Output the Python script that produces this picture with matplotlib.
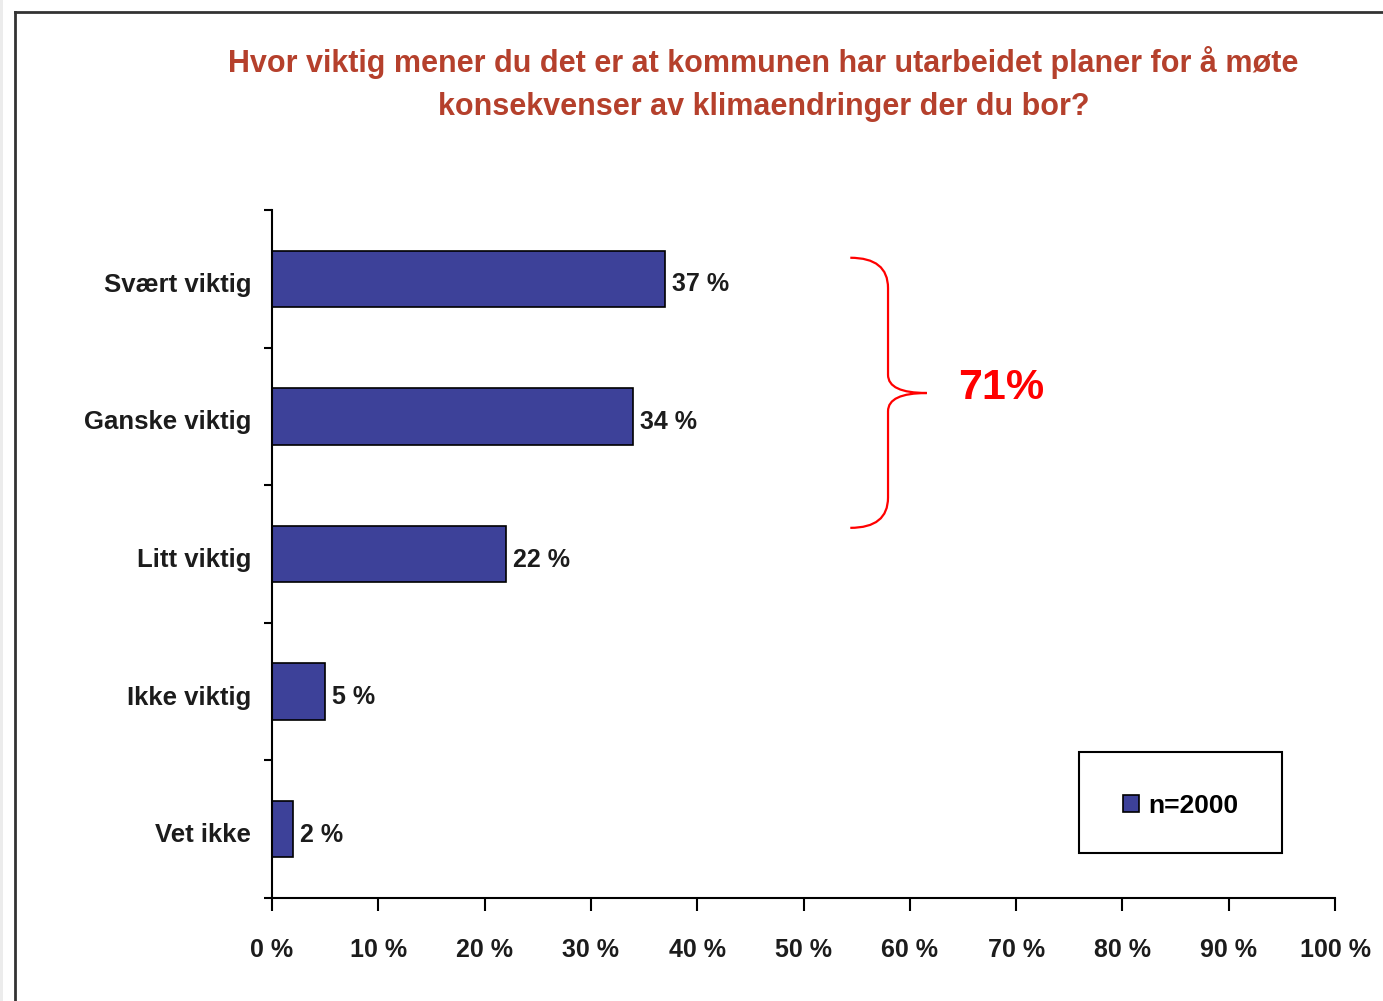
import matplotlib
matplotlib.use("Agg")
import matplotlib.pyplot as plt
import matplotlib.transforms as mtransforms
from matplotlib.path import Path
from matplotlib.patches import PathPatch, Rectangle

plt.rcParams['font.family'] = ['Liberation Sans', 'DejaVu Sans']

# data
categories = ["Svært viktig", "Ganske viktig", "Litt viktig", "Ikke viktig", "Vet ikke"]
shares = [37, 34, 22, 5, 2]
x_ticks = list(range(0, 101, 10))
x_labels = [f"{t} %" for t in x_ticks]
title = ("Hvor viktig mener du det er at kommunen har utarbeidet planer for å møte\n"
         "konsekvenser av klimaendringer der du bor?")
series_label = "n=2000"
brace_text = "71%"

bar_color = "#3d4199"
title_color = "#b5402c"
text_color = "#1c1c1c"

fig = plt.figure(figsize=(13.83, 10.01), dpi=100)
fig.patch.set_facecolor("white")

# outer frame like the original page
fig.add_artist(Rectangle((0, 0), 0.0025, 1, transform=fig.transFigure, color="#ececec", lw=0))
fig.add_artist(plt.Line2D([0.0105, 0.0105], [0, 0.988], transform=fig.transFigure, color="#333333", lw=2))
fig.add_artist(plt.Line2D([0.0105, 1], [0.988, 0.988], transform=fig.transFigure, color="#333333", lw=2))

ax = fig.add_axes([0.1967, 0.1029, 0.7686, 0.6873])
pos = list(range(len(categories)))
bars = ax.barh(pos, shares, height=0.41, color=bar_color, edgecolor="black", lw=1.2, label=series_label)
value_texts = ax.bar_label(bars, labels=[f"{v} %" for v in shares], padding=5, fontsize=18,
                           fontweight="bold", color=text_color)
# labels sit a few pixels below the bar centres in the original
for t in value_texts:
    t.xyann = (5, -4)

ax.set_xlim(0, 100)
ax.set_ylim(len(categories) - 0.5, -0.5)
ax.set_xticks(x_ticks)
ax.set_xticklabels(x_labels, fontsize=18, fontweight="bold", color=text_color)
ax.tick_params(axis="x", direction="out", length=9, width=1.5, pad=20)

# y ticks at slot borders, labels at centres
ax.set_yticks([p - 0.5 for p in pos] + [len(categories) - 0.5])
ax.set_yticklabels([])
ax.set_yticks(pos, minor=True)
ax.set_yticklabels(categories, minor=True, fontsize=18.5, fontweight="bold", color=text_color)
ax.tick_params(axis="y", which="major", direction="out", length=6, width=1.5)
ax.tick_params(axis="y", which="minor", length=0, pad=15)
shift_down = mtransforms.ScaledTranslation(0, -2.5 / 72, fig.dpi_scale_trans)
for lbl in ax.get_yticklabels(minor=True):
    lbl.set_transform(lbl.get_transform() + shift_down)

for s in ["top", "right"]:
    ax.spines[s].set_visible(False)
for s in ["left", "bottom"]:
    ax.spines[s].set_linewidth(1.5)

# brace for the first two answers
x0, xs, xt = 54.4, 57.95, 61.6
y0, ym, y1 = -0.153, 0.83, 1.81
r = 0.22
verts = [(x0, y0), (xs, y0), (xs, y0 + r),
         (xs, ym - r * 0.6), (xs, ym), (xt, ym),
         (xs, ym), (xs, ym + r * 0.6),
         (xs, y1 - r), (xs, y1), (x0, y1)]
codes = [Path.MOVETO, Path.CURVE3, Path.CURVE3,
         Path.LINETO, Path.CURVE3, Path.CURVE3,
         Path.CURVE3, Path.CURVE3,
         Path.LINETO, Path.CURVE3, Path.CURVE3]
ax.add_patch(PathPatch(Path(verts, codes), fill=False, edgecolor="red", lw=1.6, clip_on=False))
ax.text(64.5, ym - 0.04, brace_text, color="red", fontsize=31, fontweight="bold", va="center", ha="left")

fig.text(0.552, 0.916, title, ha="center", va="center", color=title_color,
         fontsize=22, fontweight="bold", linespacing=1.55)

# legend box
fig.add_artist(Rectangle((0.780, 0.148), 0.147, 0.101, transform=fig.transFigure,
                         fill=False, edgecolor="black", lw=1.5))
fig.legend(handles=[bars], labels=[series_label], loc="center", bbox_to_anchor=(0.8536, 0.195),
           frameon=False, prop={"weight": "bold", "size": 19},
           handlelength=0.6, handleheight=0.6, handletextpad=0.35)

fig.savefig("out.png", dpi=100)
